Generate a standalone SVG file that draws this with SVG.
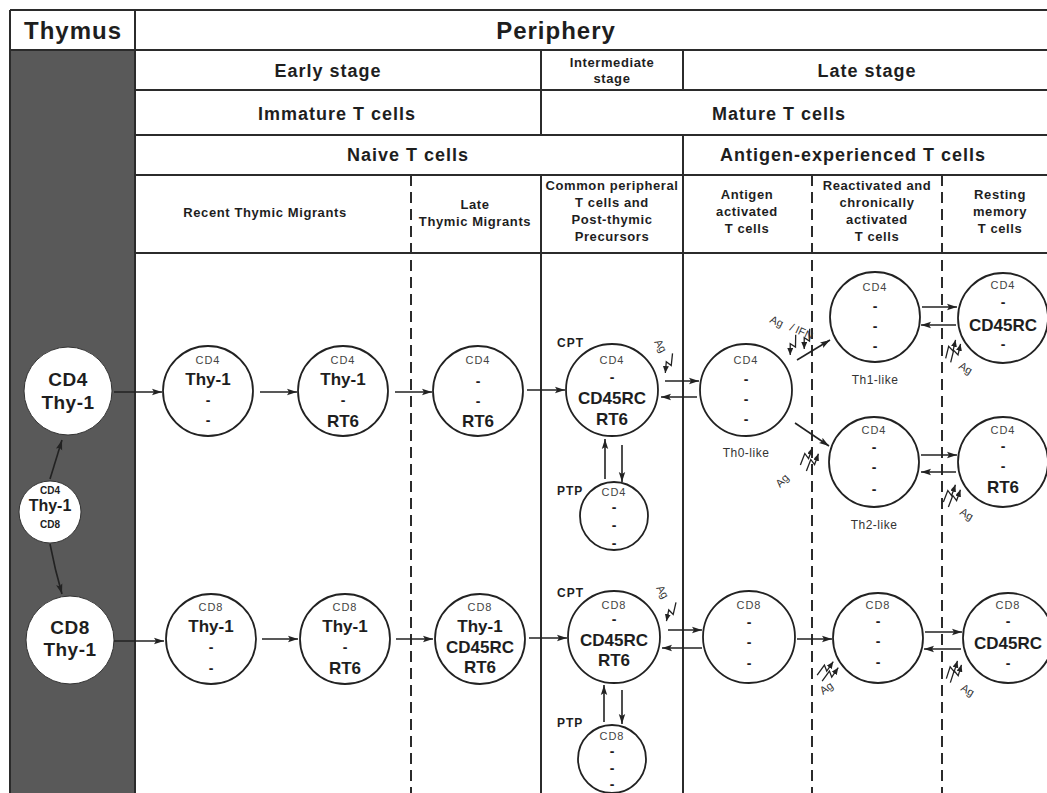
<svg xmlns="http://www.w3.org/2000/svg" width="1047" height="793" viewBox="0 0 1047 793">
<style>
.grid{stroke:#2b2b2b;stroke-width:2;fill:none}
.dsh{stroke:#2b2b2b;stroke-width:2;fill:none;stroke-dasharray:11 6}
.cell{fill:#fff;stroke:#222;stroke-width:1.8}
.tcell{fill:#fff;stroke:#333;stroke-width:1}
.con{stroke:#222;stroke-width:1.6;fill:none;marker-end:url(#ah)}
.bolt{stroke:#222;stroke-width:1.3;fill:none;marker-end:url(#bh)}
text{font-family:"Liberation Sans",Arial,sans-serif;fill:#1e1e1e;text-anchor:middle}
.h1{font-size:24px;font-weight:bold;letter-spacing:1px}
.h2{font-size:18px;font-weight:bold;letter-spacing:1px}
.h3{font-size:13px;font-weight:bold;letter-spacing:0.6px}
.sm{font-size:11px;letter-spacing:1px;fill:#444}
.mk{font-size:17px;font-weight:bold}
.big{font-size:19px;font-weight:bold;letter-spacing:0.5px}
.neg{font-size:14px;font-weight:bold}
.lbl{font-size:12px;letter-spacing:0.5px;fill:#333}
.cp{font-size:12px;font-weight:bold;letter-spacing:1px;text-anchor:start}
.ag{font-size:11px;fill:#333;text-anchor:start}
</style>
<defs>
<marker id="ah" markerUnits="userSpaceOnUse" markerWidth="11" markerHeight="8" refX="10" refY="4" orient="auto">
<path d="M0,0.8 L10,4 L0,7.2 L2,4 z" fill="#222"/>
</marker>
<marker id="bh" markerUnits="userSpaceOnUse" markerWidth="8" markerHeight="6" refX="7" refY="3" orient="auto">
<path d="M0,0 L7,3 L0,6 z" fill="#222"/>
</marker>
<path id="bolt" d="M-22,0 L-10,-3 L-12,3 L-1,0" class="bolt"/>
</defs>

<!-- frame and table -->
<g id="table">
<rect x="10" y="50" width="125" height="743" fill="#595959"/>
<path class="grid" d="M10,10 H1047 M10,10 V793 M135,10 V793 M10,50 H1047 M135,90 H1047 M135,135 H1047 M135,175 H1047 M135,253 H1047 M541,50 V135 M541,175 V793 M683,50 V90 M683,135 V793"/>
<path class="dsh" d="M411,175 V793 M812,175 V793 M942,175 V793"/>
</g>

<g id="headers">
<text class="h1" x="73" y="39">Thymus</text>
<text class="h1" x="556" y="39">Periphery</text>
<text class="h2" x="328" y="77">Early stage</text>
<text class="h3" x="612" y="67">Intermediate</text>
<text class="h3" x="612" y="83">stage</text>
<text class="h2" x="867" y="77">Late stage</text>
<text class="h2" x="337" y="120">Immature T cells</text>
<text class="h2" x="779" y="120">Mature T cells</text>
<text class="h2" x="408" y="161">Naive T cells</text>
<text class="h2" x="853" y="161">Antigen-experienced T cells</text>
<text class="h3" x="265" y="217">Recent Thymic Migrants</text>
<text class="h3" x="475" y="209">Late</text>
<text class="h3" x="475" y="226">Thymic Migrants</text>
<text class="h3" x="612" y="190">Common peripheral</text>
<text class="h3" x="612" y="207">T cells and</text>
<text class="h3" x="612" y="224">Post-thymic</text>
<text class="h3" x="612" y="241">Precursors</text>
<text class="h3" x="747" y="199">Antigen</text>
<text class="h3" x="747" y="216">activated</text>
<text class="h3" x="747" y="233">T cells</text>
<text class="h3" x="877" y="190">Reactivated and</text>
<text class="h3" x="877" y="207">chronically</text>
<text class="h3" x="877" y="224">activated</text>
<text class="h3" x="877" y="241">T cells</text>
<text class="h3" x="1000" y="199">Resting</text>
<text class="h3" x="1000" y="216">memory</text>
<text class="h3" x="1000" y="233">T cells</text>
</g>

<!-- thymus cells -->
<g id="thy-cd4">
<circle class="tcell" cx="68" cy="391" r="44"/>
<text class="big" x="68" y="386">CD4</text>
<text class="big" x="68" y="409">Thy-1</text>
</g>
<g id="thy-dp">
<circle class="tcell" cx="50" cy="512" r="31"/>
<text x="50" y="494" style="font-size:10px;font-weight:bold">CD4</text>
<text x="50" y="511" style="font-size:16px;font-weight:bold">Thy-1</text>
<text x="50" y="528" style="font-size:10px;font-weight:bold">CD8</text>
</g>
<g id="thy-cd8">
<circle class="tcell" cx="70" cy="640" r="44"/>
<text class="big" x="70" y="634">CD8</text>
<text class="big" x="70" y="656">Thy-1</text>
</g>

<!-- CD4 row -->
<g id="rtm-cd4">
<circle class="cell" cx="208" cy="391" r="45"/>
<text class="sm" x="208" y="364">CD4</text>
<text class="mk" x="208" y="385">Thy-1</text>
<text class="neg" x="208" y="405">-</text>
<text class="neg" x="208" y="425">-</text>
</g>
<g id="rtm2-cd4">
<circle class="cell" cx="343" cy="391" r="45"/>
<text class="sm" x="343" y="364">CD4</text>
<text class="mk" x="343" y="385">Thy-1</text>
<text class="neg" x="343" y="405">-</text>
<text class="mk" x="343" y="427">RT6</text>
</g>
<g id="ltm-cd4">
<circle class="cell" cx="478" cy="391" r="45"/>
<text class="sm" x="478" y="364">CD4</text>
<text class="neg" x="478" y="386">-</text>
<text class="neg" x="478" y="406">-</text>
<text class="mk" x="478" y="427">RT6</text>
</g>
<g id="cpt-cd4">
<text class="cp" x="557" y="347">CPT</text>
<circle class="cell" cx="612" cy="390" r="46"/>
<text class="sm" x="612" y="364">CD4</text>
<text class="neg" x="612" y="382">-</text>
<text class="mk" x="612" y="404">CD45RC</text>
<text class="mk" x="612" y="425">RT6</text>
</g>
<g id="ptp-cd4">
<text class="cp" x="557" y="495">PTP</text>
<circle class="cell" cx="614" cy="516" r="34"/>
<text class="sm" x="614" y="496">CD4</text>
<text class="neg" x="614" y="512">-</text>
<text class="neg" x="614" y="530">-</text>
<text class="neg" x="614" y="548">-</text>
</g>
<g id="aa-cd4">
<circle class="cell" cx="746" cy="390" r="46"/>
<text class="sm" x="746" y="364">CD4</text>
<text class="neg" x="746" y="384">-</text>
<text class="neg" x="746" y="404">-</text>
<text class="neg" x="746" y="424">-</text>
<text class="lbl" x="746" y="457">Th0-like</text>
</g>
<g id="th1">
<circle class="cell" cx="875" cy="317" r="45"/>
<text class="sm" x="875" y="291">CD4</text>
<text class="neg" x="875" y="311">-</text>
<text class="neg" x="875" y="331">-</text>
<text class="neg" x="875" y="351">-</text>
<text class="lbl" x="875" y="384">Th1-like</text>
</g>
<g id="th2">
<circle class="cell" cx="874" cy="462" r="45"/>
<text class="sm" x="874" y="434">CD4</text>
<text class="neg" x="874" y="452">-</text>
<text class="neg" x="874" y="472">-</text>
<text class="neg" x="874" y="494">-</text>
<text class="lbl" x="874" y="529">Th2-like</text>
</g>
<g id="mem1">
<circle class="cell" cx="1003" cy="318" r="45"/>
<text class="sm" x="1003" y="289">CD4</text>
<text class="neg" x="1003" y="307">-</text>
<text class="mk" x="1003" y="331">CD45RC</text>
<text class="neg" x="1003" y="349">-</text>
</g>
<g id="mem2">
<circle class="cell" cx="1003" cy="462" r="45"/>
<text class="sm" x="1003" y="434">CD4</text>
<text class="neg" x="1003" y="451">-</text>
<text class="neg" x="1003" y="471">-</text>
<text class="mk" x="1003" y="493">RT6</text>
</g>

<!-- CD8 row -->
<g id="rtm-cd8">
<circle class="cell" cx="211" cy="639" r="45"/>
<text class="sm" x="211" y="611">CD8</text>
<text class="mk" x="211" y="632">Thy-1</text>
<text class="neg" x="211" y="652">-</text>
<text class="neg" x="211" y="673">-</text>
</g>
<g id="rtm2-cd8">
<circle class="cell" cx="345" cy="639" r="45"/>
<text class="sm" x="345" y="611">CD8</text>
<text class="mk" x="345" y="632">Thy-1</text>
<text class="neg" x="345" y="652">-</text>
<text class="mk" x="345" y="674">RT6</text>
</g>
<g id="ltm-cd8">
<circle class="cell" cx="480" cy="639" r="45"/>
<text class="sm" x="480" y="611">CD8</text>
<text class="mk" x="480" y="632">Thy-1</text>
<text class="mk" x="480" y="653">CD45RC</text>
<text class="mk" x="480" y="673">RT6</text>
</g>
<g id="cpt-cd8">
<text class="cp" x="557" y="597">CPT</text>
<circle class="cell" cx="614" cy="637" r="46"/>
<text class="sm" x="614" y="609">CD8</text>
<text class="neg" x="614" y="624">-</text>
<text class="mk" x="614" y="646">CD45RC</text>
<text class="mk" x="614" y="666">RT6</text>
</g>
<g id="ptp-cd8">
<text class="cp" x="557" y="727">PTP</text>
<circle class="cell" cx="612" cy="759" r="34"/>
<text class="sm" x="612" y="740">CD8</text>
<text class="neg" x="612" y="756">-</text>
<text class="neg" x="612" y="773">-</text>
<text class="neg" x="612" y="789">-</text>
</g>
<g id="aa-cd8">
<circle class="cell" cx="749" cy="637" r="46"/>
<text class="sm" x="749" y="609">CD8</text>
<text class="neg" x="749" y="627">-</text>
<text class="neg" x="749" y="647">-</text>
<text class="neg" x="749" y="668">-</text>
</g>
<g id="react-cd8">
<circle class="cell" cx="878" cy="638" r="45"/>
<text class="sm" x="878" y="609">CD8</text>
<text class="neg" x="878" y="626">-</text>
<text class="neg" x="878" y="646">-</text>
<text class="neg" x="878" y="667">-</text>
</g>
<g id="mem-cd8">
<circle class="cell" cx="1008" cy="638" r="45"/>
<text class="sm" x="1008" y="609">CD8</text>
<text class="neg" x="1008" y="626">-</text>
<text class="mk" x="1008" y="649">CD45RC</text>
<text class="neg" x="1008" y="668">-</text>
</g>

<!-- connectors -->
<g id="connectors">
<path class="con" d="M50,479 L62,440"/>
<path class="con" d="M50,544 Q55,570 62,594"/>
<path class="con" d="M114,392 H162"/>
<path class="con" d="M260,392 H297"/>
<path class="con" d="M395,392 H432"/>
<path class="con" d="M527,390 H565"/>
<path class="con" d="M665,381 H699"/>
<path class="con" d="M697,397 H661"/>
<path class="con" d="M605,479 V439"/>
<path class="con" d="M622,445 V482"/>
<path class="con" d="M797,360 L830,340"/>
<path class="con" d="M795,423 L829,446"/>
<path class="con" d="M922,307 H957"/>
<path class="con" d="M956,325 H921"/>
<path class="con" d="M921,455 H957"/>
<path class="con" d="M956,472 H921"/>
<path class="con" d="M114,641 H164"/>
<path class="con" d="M262,639 H298"/>
<path class="con" d="M396,639 H433"/>
<path class="con" d="M529,638 H567"/>
<path class="con" d="M668,630 H702"/>
<path class="con" d="M702,648 H662"/>
<path class="con" d="M604,722 V685"/>
<path class="con" d="M622,690 V724"/>
<path class="con" d="M797,639 H832"/>
<path class="con" d="M925,632 H962"/>
<path class="con" d="M961,649 H924"/>
</g>

<!-- antigen stimuli -->
<g id="antigen">
<use href="#bolt" transform="translate(665,374) rotate(110)"/>
<text class="ag" transform="translate(654,342) rotate(60)">Ag</text>
<use href="#bolt" transform="translate(666,622) rotate(117)"/>
<text class="ag" transform="translate(656,588) rotate(60)">Ag</text>
<use href="#bolt" transform="translate(790,356) rotate(105)"/>
<use href="#bolt" transform="translate(804,350) rotate(105)"/>
<text class="ag" transform="translate(769,322) rotate(25)">Ag</text>
<text class="ag" transform="translate(789,330) rotate(25)">/ IFN</text>
<use href="#bolt" transform="translate(813,447) rotate(-55)"/>
<use href="#bolt" transform="translate(819,453) rotate(-55)"/>
<text class="ag" transform="translate(780,488) rotate(-45)">Ag</text>
<use href="#bolt" transform="translate(956,339) rotate(-62)"/>
<use href="#bolt" transform="translate(961,343) rotate(-62)"/>
<text class="ag" transform="translate(958,368) rotate(30)">Ag</text>
<use href="#bolt" transform="translate(956,484) rotate(-55)"/>
<use href="#bolt" transform="translate(961,489) rotate(-55)"/>
<text class="ag" transform="translate(959,514) rotate(30)">Ag</text>
<use href="#bolt" transform="translate(834,661) rotate(-40)"/>
<use href="#bolt" transform="translate(839,667) rotate(-40)"/>
<text class="ag" transform="translate(823,695) rotate(-35)">Ag</text>
<use href="#bolt" transform="translate(958,660) rotate(-58)"/>
<use href="#bolt" transform="translate(962,664) rotate(-58)"/>
<text class="ag" transform="translate(960,690) rotate(30)">Ag</text>
</g>
</svg>
